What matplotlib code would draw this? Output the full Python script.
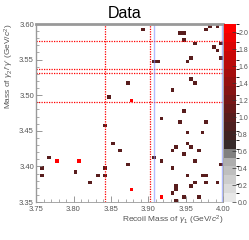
import numpy as np
import matplotlib
matplotlib.use("Agg")
import matplotlib.pyplot as plt
from matplotlib.colors import LinearSegmentedColormap, BoundaryNorm

plt.rcParams['font.family'] = ['Liberation Sans', 'DejaVu Sans']
plt.rcParams['mathtext.fontset'] = 'custom'
plt.rcParams['mathtext.rm'] = 'Liberation Sans'
plt.rcParams['mathtext.it'] = 'Liberation Sans:italic'

# event cells: recoil mass of gamma1, mass of gamma2, counts
recoil = [3.8925, 3.9425, 3.9475, 3.9475, 3.9625, 3.9775, 3.9825, 3.9925, 3.9975, 3.9875,
          3.9925, 3.9975, 3.9075, 3.9125, 3.9525, 3.9575, 3.9575, 3.9625, 3.9325, 3.8725,
          3.8475, 3.8775, 3.9475, 3.9175, 3.9425, 3.9775, 3.8425, 3.9525, 3.9725, 3.8525,
          3.9525, 3.9375, 3.9575, 3.9325, 3.9675, 3.8625, 3.9475, 3.7675, 3.9075, 3.7775,
          3.8075, 3.9175, 3.9625, 3.7575, 3.7575, 3.8025, 3.8425, 3.8425, 3.8325, 3.8225,
          3.8725, 3.9325, 3.9975, 3.9525, 3.9725, 3.9775, 3.9625, 3.9575, 3.9775, 3.9925,
          3.9375, 3.9375, 3.9325, 3.8775, 3.9175, 3.9475, 3.9675, 3.9375]
mass2 = [3.5925, 3.5875, 3.5875, 3.5775, 3.5725, 3.5925, 3.5975, 3.5975, 3.5725, 3.5675,
         3.5625, 3.5525, 3.5475, 3.5475, 3.5475, 3.5525, 3.5225, 3.5175, 3.5075, 3.5175,
         3.4975, 3.4925, 3.4775, 3.4675, 3.4625, 3.4625, 3.4575, 3.4475, 3.4475, 3.4325,
         3.4325, 3.4275, 3.4275, 3.4225, 3.4225, 3.4225, 3.4175, 3.4125, 3.4125, 3.4075,
         3.4075, 3.4075, 3.4075, 3.3975, 3.3875, 3.3925, 3.3975, 3.3875, 3.3875, 3.3775,
         3.4025, 3.3975, 3.4025, 3.3875, 3.3875, 3.3875, 3.3775, 3.3725, 3.3775, 3.3775,
         3.3725, 3.3675, 3.3625, 3.3675, 3.3575, 3.3575, 3.3575, 3.3525]
counts = [1, 1, 1, 1, 1, 1, 1, 1, 1, 1,
          1, 1, 1, 1, 1, 1, 1, 1, 1, 1,
          1, 2, 1, 1, 1, 1, 1, 1, 1, 1,
          1, 1, 1, 1, 1, 1, 1, 1, 1, 2,
          2, 1, 1, 1, 1, 1, 1, 1, 1, 1,
          1, 1, 1, 1, 1, 1, 1, 1, 1, 1,
          1, 1, 1, 2, 2, 1, 1, 1]

# cut lines
red_x = [3.8425, 3.9025]
red_y = [3.5765, 3.5365, 3.5312, 3.4905]
blue_x = [3.9078, 3.9988]

xbins = np.linspace(3.75, 4.0, 51)
ybins = np.linspace(3.35, 3.60, 51)
h, xe, ye = np.histogram2d(recoil, mass2, bins=[xbins, ybins], weights=counts)
h = np.ma.masked_equal(h, 0)

cmap = LinearSegmentedColormap.from_list('rootgr', [
    (0.0, '#e8e8e8'), (0.2, '#b4b4b4'), (0.27, '#7a7a7a'), (0.29, '#333333'),
    (0.34, '#3c2424'), (0.48, '#5a1c1c'), (0.7, '#9a1010'), (1.0, '#ff0000')])
levels = np.arange(0, 2.11, 0.105)
norm = BoundaryNorm(levels, cmap.N)

fig = plt.figure(figsize=(2.49, 2.40), dpi=100)
ax = fig.add_axes([0.145, 0.158, 0.751, 0.742])
mesh = ax.pcolormesh(xe, ye, h.T, cmap=cmap, norm=norm)

for x in red_x:
    ax.axvline(x, color='red', ls=(0, (1, 1)), lw=0.9)
for y in red_y:
    ax.plot([3.75, 3.9985], [y, y], color='red', ls=(0, (1, 1)), lw=0.9)
for x in blue_x:
    ax.axvline(x, color='#8090ff', lw=1, alpha=0.6)

ax.set_xlim(3.75, 4.0)
ax.set_ylim(3.35, 3.60)
ax.set_xticks(np.arange(3.75, 4.001, 0.05))
ax.set_yticks(np.arange(3.35, 3.601, 0.05))
ax.set_xticks(np.arange(3.75, 4.001, 0.01), minor=True)
ax.set_yticks(np.arange(3.35, 3.601, 0.01), minor=True)
ax.tick_params(which='both', direction='in', color='#888888', labelsize=5.5,
               labelcolor='#555555')
ax.tick_params(axis='x', pad=2.5)
ax.tick_params(axis='y', pad=1.5)
ax.tick_params(which='major', length=4, width=0.6)
ax.tick_params(which='minor', length=2, width=0.5)
for s in ax.spines.values():
    s.set_color('#999999')
    s.set_linewidth(0.6)
ax.spines['top'].set_linewidth(2)
ax.spines['left'].set_linewidth(1)

ax.set_xlabel(r'Recoil Mass of $\gamma_1$ (GeV/$c^2$)', fontsize=6, color='#555555',
              loc='right', labelpad=1)
ax.set_ylabel(r"Mass of $\gamma_2$/'$\gamma$' (GeV/$c^2$)", fontsize=6, color='#555555',
              loc='top', labelpad=2)
fig.text(0.5, 0.945, 'Data', fontsize=11.5, ha='center', va='center')

cax = fig.add_axes([0.9, 0.158, 0.048, 0.742])
cb = fig.colorbar(mesh, cax=cax, ticks=np.arange(0, 2.01, 0.2))
cb.outline.set_visible(False)
cb.ax.set_ylim(0, 2.1)
cb.ax.tick_params(direction='in', length=3, width=0.5, color='#333333',
                  labelsize=5, labelcolor='#555555', pad=1.5)
cb.ax.set_yticklabels(['%.1f' % v for v in np.arange(0, 2.01, 0.2)])

fig.savefig('out.png', dpi=100)
